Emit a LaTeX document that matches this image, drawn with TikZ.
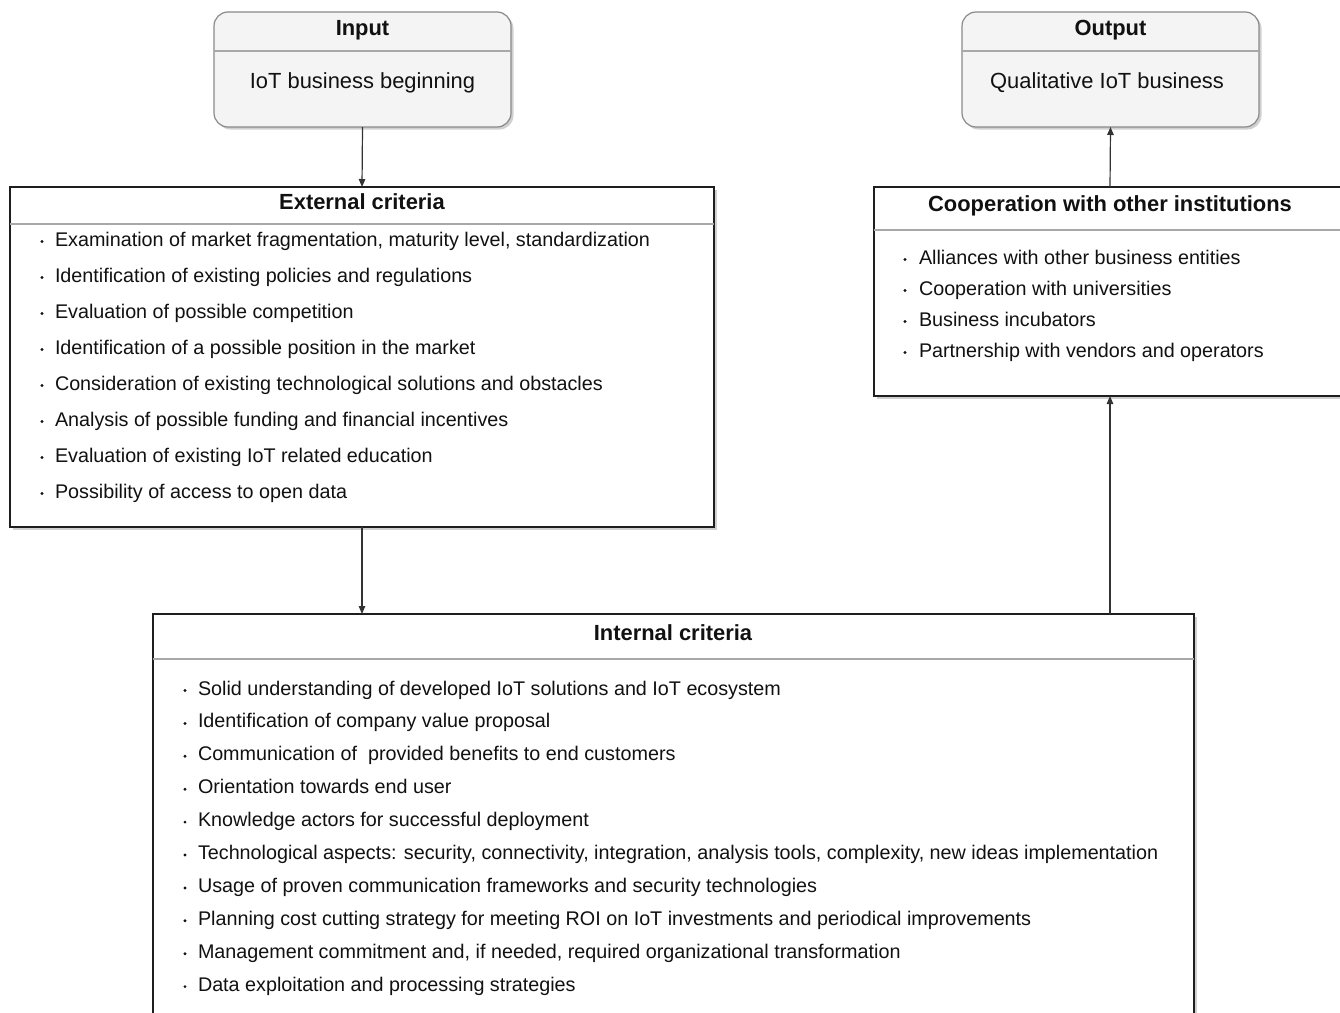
\documentclass[tikz,border=0pt]{standalone}
\usepackage{fontspec}
\setmainfont{Liberation Sans}
\usetikzlibrary{arrows.meta,shadows,calc}
\definecolor{ink}{HTML}{111111}
\definecolor{edge}{HTML}{1E1E1E}
\definecolor{softedge}{HTML}{8A8A8A}
\definecolor{rule}{HTML}{A8A8A8}
\definecolor{boxfill}{HTML}{F4F4F4}
\definecolor{wire}{HTML}{333333}
\begin{document}
\begin{tikzpicture}[x=1pt,y=-1pt,
  every node/.style={inner sep=0pt, outer sep=0pt, text=ink},
  boxshadow/.style={drop shadow={shadow xshift=2.5pt, shadow yshift=-2.5pt, opacity=0.3, fill=black!60}},
  roundbox/.style={draw=softedge, line width=1.2pt, fill=boxfill, rounded corners=14pt, anchor=north west, boxshadow},
  listbox/.style={draw=edge, line width=1.3pt, fill=white, anchor=north west, boxshadow},
  divider/.style={draw=rule, line width=1.2pt},
  boxtitle/.style={font=\fontsize{21.9}{26}\selectfont\bfseries},
  boxbody/.style={font=\fontsize{21.9}{26}\selectfont},
  item/.style={font=\fontsize{19.75}{23}\selectfont, anchor=base west},
  bulletdot/.style={fill=ink, circle, minimum size=3.2pt},
  flow/.style={draw=wire, line width=1.2pt, -{Triangle[length=8pt,width=6.5pt]}},
]
\clip (0,0) rectangle (1340,1012);
\fill[white] (0,0) rectangle (1340,1012);

% ---- input / output boxes ----
\node[roundbox, minimum width=297pt, minimum height=115pt] (input) at (214,12) {};
\draw[divider] (input.west |- 0,51) -- (input.east |- 0,51);
\node[boxtitle] (input-title) at (362.5,30) {Input};
\node[boxbody] (input-body) at (362.5,83) {IoT business beginning};

\node[roundbox, minimum width=297pt, minimum height=115pt] (output) at (962,12) {};
\draw[divider] (output.west |- 0,51) -- (output.east |- 0,51);
\node[boxtitle] (output-title) at (1110.5,30) {Output};
\node[boxbody] (output-body) at (1107,83) {Qualitative IoT business};

% ---- external criteria ----
\node[listbox, minimum width=704pt, minimum height=340pt] (external) at (10,187) {};
\draw[divider] (external.west |- 0,224) -- (external.east |- 0,224);
\node[boxtitle] (external-title) at (362,202) {External criteria};
\foreach \t [count=\i from 0] in {
  {Examination of market fragmentation, maturity level, standardization},
  {Identification of existing policies and regulations},
  {Evaluation of possible competition},
  {Identification of a possible position in the market},
  {Consideration of existing technological solutions and obstacles},
  {Analysis of possible funding and financial incentives},
  {Evaluation of existing IoT related education},
  {Possibility of access to open data}} {
  \node[bulletdot] (ext-dot-\i) at (42,{239+36*\i+2.5}) {};
  \node[item] (ext-item-\i) at (55,{239+36*\i+7}) {\t};
}

% ---- cooperation with other institutions ----
\node[listbox, minimum width=472pt, minimum height=209pt] (coop) at (874,187) {};
\draw[divider] (coop.west |- 0,230) -- (coop.east |- 0,230);
\node[boxtitle] (coop-title) at (1110,206) {Cooperation with other institutions};
\foreach \t [count=\i from 0] in {
  {Alliances with other business entities},
  {Cooperation with universities},
  {Business incubators},
  {Partnership with vendors and operators}} {
  \node[bulletdot] (coop-dot-\i) at (905,{257+31*\i+2.5}) {};
  \node[item] (coop-item-\i) at (919,{257+31*\i+7}) {\t};
}

% ---- internal criteria ----
\node[listbox, minimum width=1041pt, minimum height=440pt] (internal) at (153,614) {};
\draw[divider] (internal.west |- 0,659) -- (internal.east |- 0,659);
\node[boxtitle] (internal-title) at (673,633) {Internal criteria};
\foreach \t [count=\i from 0] in {
  {Solid understanding of developed IoT solutions and IoT ecosystem},
  {Identification of company value proposal},
  {Communication of\ \ provided benefits to end customers},
  {Orientation towards end user},
  {Knowledge actors for successful deployment},
  {Technological aspects: security, connectivity, integration, analysis tools, complexity, new ideas implementation},
  {Usage of proven communication frameworks and security technologies},
  {Planning cost cutting strategy for meeting ROI on IoT investments and periodical improvements},
  {Management commitment and, if needed, required organizational transformation},
  {Data exploitation and processing strategies}} {
  \node[bulletdot] (int-dot-\i) at (185,{688+32.9*\i+2.5}) {};
  \node[item] (int-item-\i) at (198,{688+32.9*\i+7}) {\t};
}

% ---- flow ----
\draw[flow] (input.south) -- (external.north);
\draw[flow] (external.south) -- (external.south |- internal.north);
\draw[flow] (coop.south |- internal.north) -- (coop.south);
\draw[flow] (coop.north) -- (output.south);
\end{tikzpicture}
\end{document}
